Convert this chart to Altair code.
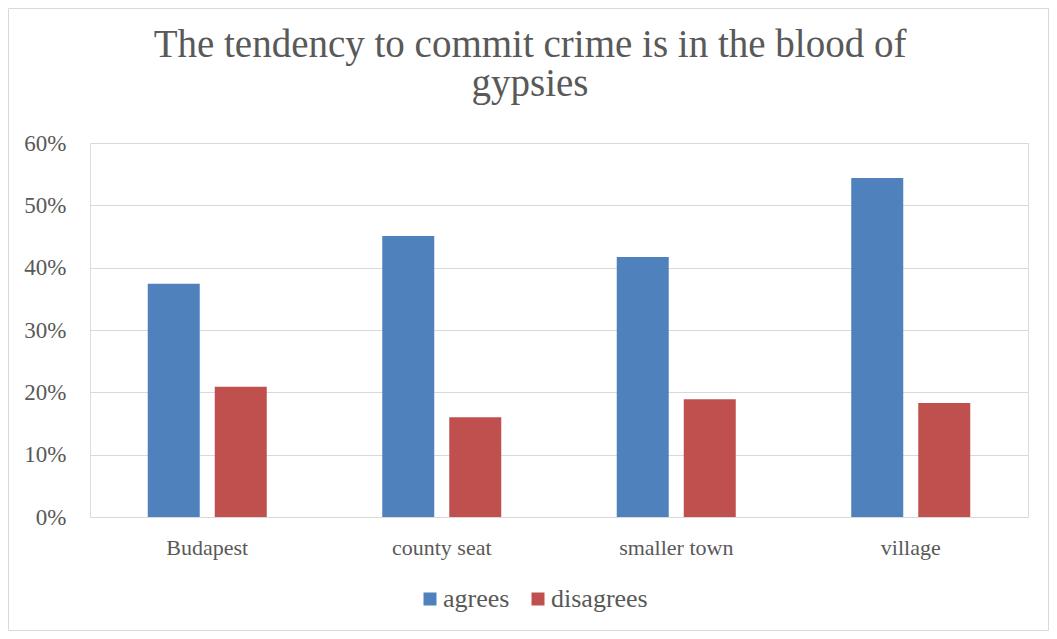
import altair as alt
import pandas as pd

categories = ["Budapest", "county seat", "smaller town", "village"]
agrees = [0.374, 0.451, 0.417, 0.544]
disagrees = [0.209, 0.160, 0.189, 0.183]
series = ["agrees", "disagrees"]
colors = ["#4F81BD", "#C0504D"]
title_lines = ["The tendency to commit crime is in the blood of", "gypsies"]

rows = []
for c, a, d in zip(categories, agrees, disagrees):
    rows.append({"place": c, "answer": "agrees", "share": a})
    rows.append({"place": c, "answer": "disagrees", "share": d})
df = pd.DataFrame(rows)

FONT = "Liberation Serif"
GREY = "#595959"
W, H = 938, 374
PL, PT, PR, PB = 82, 135, 21, 114

bars = alt.Chart(df).mark_bar().encode(
    x=alt.X("place:N", sort=categories, title=None,
            scale=alt.Scale(paddingInner=0.4925, paddingOuter=0.24625),
            axis=alt.Axis(labelAngle=0, labelFont=FONT, labelFontSize=22, labelColor=GREY,
                          ticks=False, tickSize=0, labelPadding=20, domainColor="#d9d9d9",
                          domainWidth=1, grid=False)),
    xOffset=alt.XOffset("answer:N", sort=series,
                        scale=alt.Scale(paddingInner=0.224, paddingOuter=0)),
    y=alt.Y("share:Q", title=None,
            scale=alt.Scale(domain=[0, 0.6], nice=False),
            axis=alt.Axis(format=".0%", values=[0, 0.1, 0.2, 0.3, 0.4, 0.5, 0.6],
                          labelFont=FONT, labelFontSize=23, labelColor=GREY,
                          ticks=False, tickSize=0, labelPadding=24, domain=False,
                          gridColor="#d9d9d9", gridWidth=1)),
    color=alt.Color("answer:N", sort=series,
                    scale=alt.Scale(domain=series, range=colors),
                    legend=alt.Legend(title=None, orient="none", direction="horizontal",
                                      legendX=327, legendY=443,
                                      symbolType="square", symbolSize=169,
                                      symbolStrokeWidth=0,
                                      labelFont=FONT, labelFontSize=26, labelColor=GREY,
                                      labelOffset=0, columnPadding=15)),
)

border = alt.Chart(pd.DataFrame({"k": [0]})).mark_rect(
    fill=None, stroke="#d9d9d9", strokeWidth=1
).encode(
    x=alt.value(-PL + 0.5), x2=alt.value(W + PR - 0.5),
    y=alt.value(-PT + 0.5), y2=alt.value(H + PB - 0.5),
)

title1 = alt.Chart(pd.DataFrame({"t": [title_lines[0]]})).mark_text(
    font=FONT, fontSize=39, color=GREY, align="center", baseline="alphabetic"
).encode(text="t:N", x=alt.value(440), y=alt.value(-86))

title2 = alt.Chart(pd.DataFrame({"t": [title_lines[1]]})).mark_text(
    font=FONT, fontSize=39, color=GREY, align="center", baseline="alphabetic"
).encode(text="t:N", x=alt.value(440), y=alt.value(-47))

chart = alt.layer(bars, border, title1, title2).properties(
    width=W, height=H,
    padding={"left": PL, "top": PT, "right": PR, "bottom": PB},
    autosize=alt.AutoSizeParams(type="none"),
).configure_view(stroke=None).configure(background="white")

chart.save("out.html", embed_options={"renderer": "svg", "actions": False})
